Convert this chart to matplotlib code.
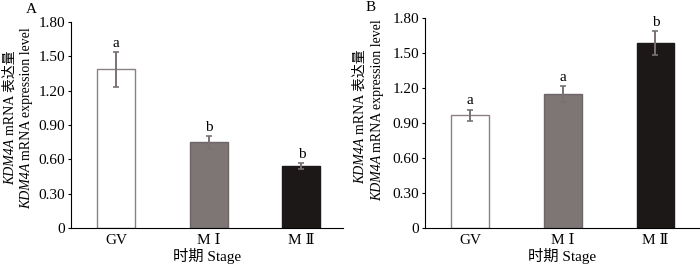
import numpy as np
import matplotlib
matplotlib.use('Agg')
import matplotlib.pyplot as plt

plt.rcParams['font.family'] = ['Liberation Serif', 'DejaVu Serif', 'Noto Sans CJK SC']
plt.rcParams['font.size'] = 11

stages = ['GV', 'M Ⅰ', 'M Ⅱ']
bar_colors = ['#ffffff', '#7e7675', '#1c1818']
edge_colors = ['#8a8080', '#6e6666', '#1c1818']

# panel A
a_values = [1.385, 0.748, 0.543]
a_errors = [0.15, 0.055, 0.025]
a_letters = ['a', 'b', 'b']

# panel B
b_values = [0.965, 1.150, 1.585]
b_errors = [0.05, 0.07, 0.10]
b_letters = ['a', 'a', 'b']

y_ticks = [0, 0.30, 0.60, 0.90, 1.20, 1.50, 1.80]
y_ticklabels = ['0', '0.30', '0.60', '0.90', '1.20', '1.50', '1.80']

W, H = 700, 267
fig = plt.figure(figsize=(7, 2.67), dpi=100)


def px(x, y):
    return x / W, 1 - y / H


def draw_panel(rect, values, errors, letters, xlim):
    ax = fig.add_axes(rect)
    x = np.arange(len(stages))
    ax.bar(x, values, width=0.41, color=bar_colors, edgecolor=edge_colors,
           linewidth=1.0, zorder=2)
    ax.errorbar(x, values, yerr=errors, fmt='none', ecolor='#7a7272',
                elinewidth=1.4, capsize=2.5, capthick=1.2, zorder=3)
    for xi, v, e, s in zip(x, values, errors, letters):
        ax.annotate(s, (xi, v + e), xytext=(0, 1.5), textcoords='offset points',
                    ha='center', va='bottom', fontsize=11)
    ax.set_xlim(*xlim)
    ax.set_ylim(0, 1.80)
    ax.set_yticks(y_ticks)
    ax.set_yticklabels(y_ticklabels)
    ax.set_xticks(x)
    ax.set_xticklabels(stages)
    ax.tick_params(axis='y', direction='out', length=2.5, width=0.8, pad=1.5,
                   labelsize=11)
    ax.tick_params(axis='x', length=0, pad=4, labelsize=11)
    for side in ['top', 'right']:
        ax.spines[side].set_visible(False)
    for side in ['left', 'bottom']:
        ax.spines[side].set_linewidth(0.8)
    ax.set_xlabel('时期 Stage', labelpad=1, fontsize=11)
    return ax


x0, y0 = px(71, 228)
x1, y1 = px(343, 22)
ax_a = draw_panel([x0, y0, x1 - x0, y1 - y0], a_values, a_errors, a_letters, (-0.49, 2.45))
x0, y0 = px(425, 228)
x1, y1 = px(699, 18)
ax_b = draw_panel([x0, y0, x1 - x0, y1 - y0], b_values, b_errors, b_letters, (-0.49, 2.47))

fig.text(*px(31, 13), 'A', fontsize=11, ha='center', va='baseline')
fig.text(*px(371, 11), 'B', fontsize=11, ha='center', va='baseline')

renderer = fig.canvas.get_renderer()
space = 3.5


def rotated_line(xb, yc, pieces):
    # draw rotated text pieces along a common baseline, centred on yc (pixels)
    lengths = []
    for s, st in pieces:
        t = fig.text(0, 0, s, rotation=90, style=st, fontsize=10)
        lengths.append(t.get_window_extent(renderer).height)
        t.remove()
    total = sum(lengths) + space * (len(pieces) - 1)
    y = yc + total / 2
    for (s, st), L in zip(pieces, lengths):
        fig.text(*px(xb, y), s, rotation=90, style=st, fontsize=10,
                 rotation_mode='anchor', ha='left', va='baseline')
        y -= L + space


line1 = [('KDM4A', 'italic'), ('mRNA 表达量', 'normal')]
line2 = [('KDM4A', 'italic'), ('mRNA expression level', 'normal')]
rotated_line(14, 118, line1)
rotated_line(30, 118, line2)
rotated_line(364, 117, line1)
rotated_line(381, 110, line2)

fig.savefig('out.png', dpi=100)
